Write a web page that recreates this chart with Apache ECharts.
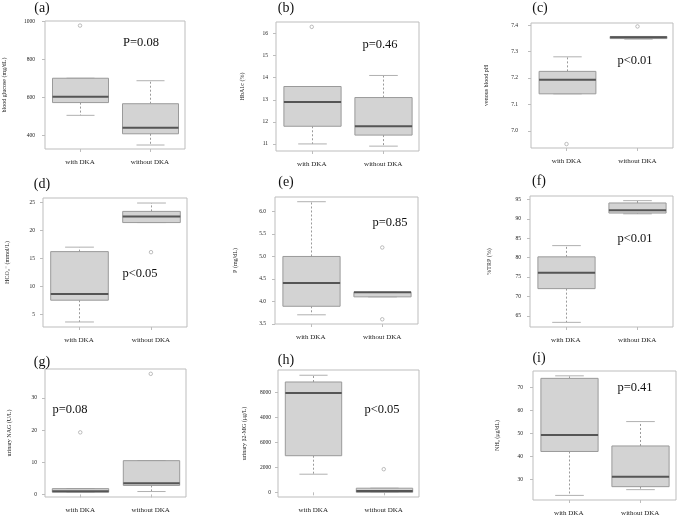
<!DOCTYPE html>
<html>
<head>
<meta charset="utf-8">
<script src="https://cdn.jsdelivr.net/npm/echarts@6/dist/echarts.min.js"></script>
<style>
html,body{margin:0;padding:0;background:#fff;}
#chart{width:677px;height:517px;}
</style>
</head>
<body>
<div id="chart"></div>
<script>
// ---- data ----
const categories = ['with DKA', 'without DKA'];
const panelLetters = ['(a)', '(b)', '(c)', '(d)', '(e)', '(f)', '(g)', '(h)', '(i)'];
const yTitles = ['blood glucose (mg/dL)', 'HbA1c (%)', 'venous blood pH', 'HCO\u2083\u207B (mmol/L)', 'P (mg/dL)', '%TRP (%)', 'urinary NAG (U/L)', 'urinary \u03B22-MG (\u03BCg/L)', 'NH\u2083 (\u03BCg/dL)'];
const pTexts = ['P=0.08', 'p=0.46', 'p<0.01', 'p<0.05', 'p=0.85', 'p<0.01', 'p=0.08', 'p<0.05', 'p=0.41'];

// box stats per group: [lower whisker, Q1, median, Q3, upper whisker]
const glucoseStats = [[507, 574, 605, 702, 702], [351, 410, 442, 568, 689]];
const glucoseOutliers = [[0, 979]];
const hba1cStats = [[11.0, 11.8, 12.9, 13.6, 13.6], [10.9, 11.4, 11.8, 13.1, 14.1]];
const hba1cOutliers = [[0, 16.3]];
const phStats = [[7.14, 7.14, 7.193, 7.225, 7.28], [7.347, 7.349, 7.354, 7.357, 7.357]];
const phOutliers = [[0, 6.95], [1, 7.395]];
const hco3Stats = [[3.6, 7.5, 8.6, 16.2, 17.0], [21.4, 21.4, 22.5, 23.4, 24.9]];
const hco3Outliers = [[1, 16.1]];
const pStats = [[3.7, 3.89, 4.41, 5.0, 6.22], [4.1, 4.1, 4.2, 4.2, 4.2]];
const pOutliers = [[1, 5.2], [1, 3.6]];
const trpStats = [[63.3, 72.0, 76.1, 80.2, 83.1], [91.3, 91.5, 92.2, 94.1, 94.7]];
const trpOutliers = [];
const nagStats = [[0.7, 0.7, 1.0, 1.8, 1.8], [0.9, 2.8, 3.5, 10.5, 10.5]];
const nagOutliers = [[0, 19.3], [1, 37.5]];
const b2mgStats = [[1450, 2930, 7950, 8830, 9370], [0, 0, 100, 330, 330]];
const b2mgOutliers = [[1, 1850]];
const nh3Stats = [[22.9, 42.0, 49.2, 73.8, 74.9], [25.4, 26.7, 31.0, 44.4, 55.0]];
const nh3Outliers = [];

// y tick values and labels
const glucoseTicks = [400, 600, 800, 1000];
const glucoseTickLabels = ['400', '600', '800', '1000'];
const hba1cTicks = [11, 12, 13, 14, 15, 16];
const hba1cTickLabels = ['11', '12', '13', '14', '15', '16'];
const phTicks = [7.0, 7.1, 7.2, 7.3, 7.4];
const phTickLabels = ['7.0', '7.1', '7.2', '7.3', '7.4'];
const hco3Ticks = [5, 10, 15, 20, 25];
const hco3TickLabels = ['5', '10', '15', '20', '25'];
const pTicks = [3.5, 4.0, 4.5, 5.0, 5.5, 6.0];
const pTickLabels = ['3.5', '4.0', '4.5', '5.0', '5.5', '6.0'];
const trpTicks = [65, 70, 75, 80, 85, 90, 95];
const trpTickLabels = ['65', '70', '75', '80', '85', '90', '95'];
const nagTicks = [0, 10, 20, 30];
const nagTickLabels = ['0', '10', '20', '30'];
const b2mgTicks = [0, 2000, 4000, 6000, 8000];
const b2mgTickLabels = ['0', '2000', '6000', '4000', '8000'];
const nh3Ticks = [30, 40, 50, 60, 70];
const nh3TickLabels = ['30', '40', '50', '60', '70'];

// ---- layout ----
const panels = [
  {stats: glucoseStats, out: glucoseOutliers, ticks: glucoseTicks, labels: glucoseTickLabels, min: 330, max: 1003,
   grid: [42, 21, 143, 128], nameGap: 38, lm: 10, letter: [42, 8], p: [141, 43]},
  {stats: hba1cStats, out: hba1cOutliers, ticks: hba1cTicks, labels: hba1cTickLabels, min: 10.68, max: 16.52,
   grid: [276, 22, 143, 129], nameGap: 31, lm: 8, letter: [286, 8], p: [380, 45]},
  {stats: phStats, out: phOutliers, ticks: phTicks, labels: phTickLabels, min: 6.935, max: 7.408,
   grid: [531, 23, 142, 125], nameGap: 42, lm: 13, letter: [540, 8], p: [635, 61]},
  {stats: hco3Stats, out: hco3Outliers, ticks: hco3Ticks, labels: hco3TickLabels, min: 2.7, max: 25.8,
   grid: [43, 198, 144, 129], nameGap: 33, lm: 8, letter: [42, 184], p: [140, 274]},
  {stats: pStats, out: pOutliers, ticks: pTicks, labels: pTickLabels, min: 3.495, max: 6.325,
   grid: [275, 197, 143, 127], nameGap: 37, lm: 9, letter: [286, 182], p: [390, 223]},
  {stats: trpStats, out: trpOutliers, ticks: trpTicks, labels: trpTickLabels, min: 62.1, max: 95.9,
   grid: [530, 196, 143, 131], nameGap: 38, lm: 9, letter: [539, 181], p: [635, 239]},
  {stats: nagStats, out: nagOutliers, ticks: nagTicks, labels: nagTickLabels, min: -0.8, max: 39,
   grid: [45, 369, 141, 128], nameGap: 33, lm: 8, letter: [42, 362], p: [70, 410]},
  {stats: b2mgStats, out: b2mgOutliers, ticks: b2mgTicks, labels: b2mgTickLabels, min: -375, max: 9790,
   grid: [278, 370, 141, 127], nameGap: 31, lm: 7, letter: [286, 360], p: [382, 410]},
  {stats: nh3Stats, out: nh3Outliers, ticks: nh3Ticks, labels: nh3TickLabels, min: 20.9, max: 77,
   grid: [533, 371, 143, 129], nameGap: 33, lm: 10, letter: [539, 358], p: [635, 388]}
];

const FONT = '"Liberation Serif", "DejaVu Serif", serif';

function renderBox(params, api) {
  const cat = api.value(0);
  const lo = api.value(1), q1 = api.value(2), med = api.value(3), q3 = api.value(4), hi = api.value(5);
  const band = api.size([1, 0])[0];
  const half = band * 0.4;
  const capHalf = half * 0.5;
  const pLo = api.coord([cat, lo]);
  const pQ1 = api.coord([cat, q1]);
  const pMed = api.coord([cat, med]);
  const pQ3 = api.coord([cat, q3]);
  const pHi = api.coord([cat, hi]);
  const x = Math.round(pQ1[0]) + 0.5;
  const children = [];
  if (hi > q3) {
    children.push({type: 'line', shape: {x1: x, y1: pQ3[1], x2: x, y2: pHi[1]},
      style: {stroke: '#9a9a9a', lineWidth: 1, lineDash: [2, 2]}});
  }
  if (lo < q1) {
    children.push({type: 'line', shape: {x1: x, y1: pQ1[1], x2: x, y2: pLo[1]},
      style: {stroke: '#9a9a9a', lineWidth: 1, lineDash: [2, 2]}});
  }
  children.push({type: 'line', shape: {x1: x - capHalf, y1: pHi[1], x2: x + capHalf, y2: pHi[1]},
    style: {stroke: '#b0b0b0', lineWidth: 1}});
  children.push({type: 'line', shape: {x1: x - capHalf, y1: pLo[1], x2: x + capHalf, y2: pLo[1]},
    style: {stroke: '#b0b0b0', lineWidth: 1}});
  children.push({type: 'rect', shape: {x: x - half, y: pQ3[1], width: 2 * half, height: Math.max(pQ1[1] - pQ3[1], 0.5)},
    style: {fill: '#d3d3d3', stroke: '#9a9a9a', lineWidth: 1}});
  children.push({type: 'line', shape: {x1: x - half, y1: pMed[1], x2: x + half, y2: pMed[1]},
    style: {stroke: '#555555', lineWidth: 2}});
  return {type: 'group', children: children};
}

const grids = [], xAxes = [], yAxes = [], series = [], graphics = [];
panels.forEach((pn, i) => {
  grids.push({left: pn.grid[0], top: pn.grid[1], width: pn.grid[2], height: pn.grid[3],
    show: true, borderColor: '#bdbdbd', borderWidth: 1, backgroundColor: 'transparent'});
  xAxes.push({type: 'category', gridIndex: i, data: categories, boundaryGap: true,
    axisLine: {show: false},
    axisTick: {show: true, alignWithLabel: true, length: 3, lineStyle: {color: '#bdbdbd'}},
    axisLabel: {fontFamily: FONT, fontSize: 7, color: '#222', margin: 10},
    splitLine: {show: false}});
  const ticks = pn.ticks, labels = pn.labels;
  yAxes.push({type: 'value', gridIndex: i, min: pn.min, max: pn.max,
    name: yTitles[i], nameLocation: 'middle', nameGap: pn.nameGap,
    nameTextStyle: {fontFamily: FONT, fontSize: 6, color: '#222'},
    axisLine: {show: false},
    splitLine: {show: false},
    axisTick: {show: true, length: 3, lineStyle: {color: '#bdbdbd'}, customValues: ticks},
    axisLabel: {fontFamily: FONT, fontSize: 5.5, color: '#222', margin: pn.lm, customValues: ticks,
      formatter: function (v) {
        let k = -1;
        for (let j = 0; j < ticks.length; j++) { if (Math.abs(ticks[j] - v) < 1e-6) { k = j; } }
        return k >= 0 ? labels[k] : '';
      }}});
  series.push({type: 'custom', xAxisIndex: i, yAxisIndex: i, renderItem: renderBox,
    encode: {x: 0, y: [1, 2, 3, 4, 5]},
    data: pn.stats.map((s, c) => [c].concat(s)), silent: true, z: 2});
  series.push({type: 'scatter', xAxisIndex: i, yAxisIndex: i, data: pn.out,
    symbol: 'circle', symbolSize: 3.5,
    itemStyle: {color: 'rgba(0,0,0,0)', borderColor: '#999', borderWidth: 0.8}, silent: true, z: 3});
  graphics.push({type: 'text', x: pn.letter[0], y: pn.letter[1],
    style: {text: panelLetters[i], font: '14px ' + FONT, fill: '#111', align: 'center', verticalAlign: 'middle'}});
  graphics.push({type: 'text', x: pn.p[0], y: pn.p[1], z: 10,
    style: {text: pTexts[i], font: '12.5px ' + FONT, fill: '#111', align: 'center', verticalAlign: 'middle'}});
});

const chart = echarts.init(document.getElementById('chart'), null, {renderer: 'canvas'});
chart.setOption({
  animation: false,
  backgroundColor: '#ffffff',
  grid: grids,
  xAxis: xAxes,
  yAxis: yAxes,
  series: series,
  graphic: graphics
});
</script>
</body>
</html>
